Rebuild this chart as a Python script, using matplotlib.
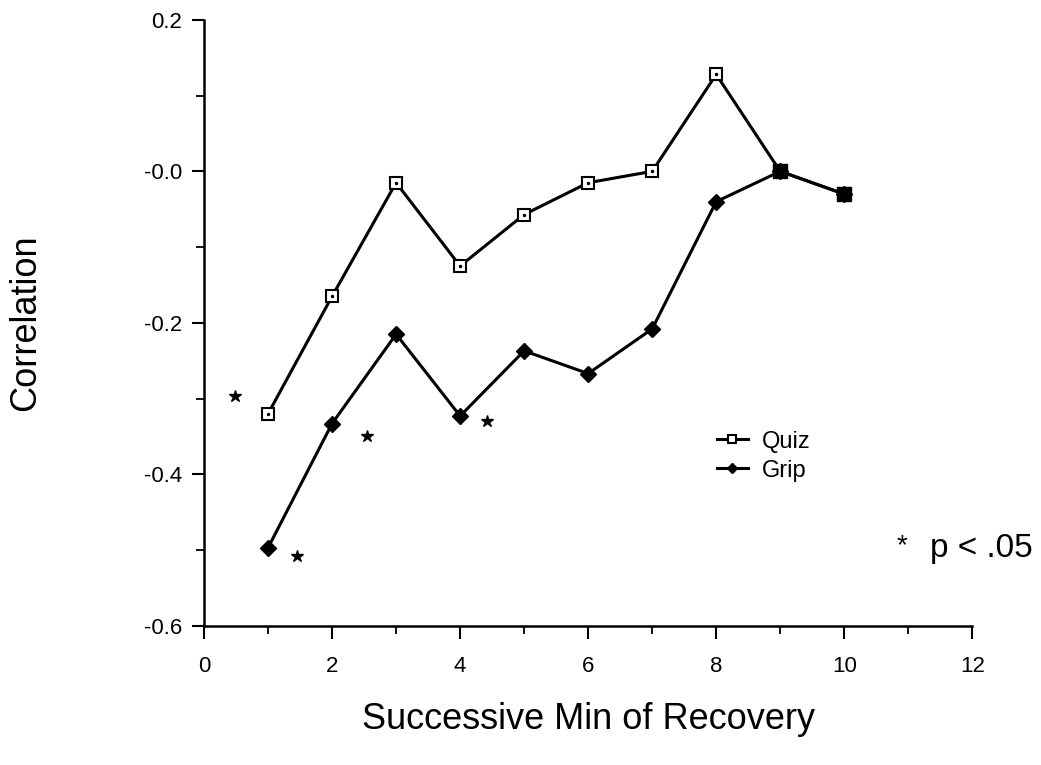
import matplotlib
matplotlib.use("Agg")
import matplotlib.pyplot as plt
from matplotlib.ticker import MultipleLocator

plt.rcParams['font.family'] = ['Liberation Sans', 'DejaVu Sans']

minutes = [1, 2, 3, 4, 5, 6, 7, 8, 9, 10]
quiz = [-0.32, -0.165, -0.015, -0.125, -0.057, -0.015, 0.0, 0.128, 0.0, -0.03]
grip = [-0.497, -0.333, -0.215, -0.323, -0.237, -0.267, -0.208, -0.04, 0.0, -0.03]

# significance stars
star_x = [0.48, 1.45, 2.55, 4.42]
star_y = [-0.297, -0.508, -0.35, -0.33]

yticks = [0.2, 0.0, -0.2, -0.4, -0.6]
ytick_labels = ['0.2', '-0.0', '-0.2', '-0.4', '-0.6']
xticks = [0, 2, 4, 6, 8, 10, 12]

fig = plt.figure(figsize=(10.41, 7.65), dpi=100)
ax = fig.add_axes([0.196, 0.182, 0.738, 0.792])

ax.plot(minutes, grip, color='black', lw=2.2, marker='D', ms=8,
        mfc='black', mec='black', label='Grip', zorder=3)
ax.plot(minutes, quiz, color='black', lw=2.2, marker='s', ms=9,
        mfc='white', mec='black', mew=1.5, label='Quiz', zorder=4)
# dot in the middle of the open squares
ax.plot(minutes[:8], quiz[:8], ls='none', marker='.', ms=3, color='black', zorder=5)
ax.plot(minutes[8:], quiz[8:], ls='none', marker='s', ms=10, color='black', zorder=6)

ax.plot(star_x, star_y, ls='none', marker='*', ms=9, color='black')

ax.set_xlim(0, 12)
ax.set_ylim(-0.6, 0.2)
ax.set_xticks(xticks)
ax.set_yticks(yticks)
ax.set_yticklabels(ytick_labels)
ax.xaxis.set_minor_locator(MultipleLocator(1))
ax.yaxis.set_minor_locator(MultipleLocator(0.1))
ax.tick_params(which='major', direction='out', length=9, width=1.5, labelsize=16)
ax.tick_params(axis='x', which='major', pad=13)
ax.tick_params(axis='y', which='major', pad=7)
ax.tick_params(which='minor', direction='out', length=6, width=1.3)

for s in ['top', 'right']:
    ax.spines[s].set_visible(False)
for s in ['left', 'bottom']:
    ax.spines[s].set_linewidth(1.8)

ax.set_xlabel('Successive Min of Recovery', fontsize=26, labelpad=18)
ax.set_ylabel('Correlation', fontsize=26, labelpad=72)

h, l = ax.get_legend_handles_labels()
ax.legend([h[1], h[0]], [l[1], l[0]], frameon=False, fontsize=17,
          loc='center left', bbox_to_anchor=(0.64, 0.28), handlelength=1.3,
          handletextpad=0.6, labelspacing=0.3, markerscale=0.7)

fig.text(0.866, 0.286, '*', fontsize=20, ha='center', va='center')
fig.text(0.893, 0.283, 'p < .05', fontsize=24, ha='left', va='center')

fig.savefig('out.png', dpi=100)
